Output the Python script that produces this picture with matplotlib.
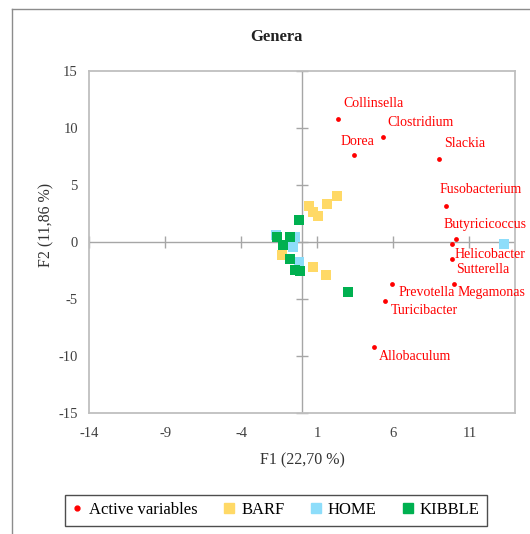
import matplotlib
matplotlib.use("Agg")
import matplotlib.pyplot as plt
from matplotlib.lines import Line2D

plt.rcParams['font.family'] = ['Liberation Serif', 'DejaVu Serif']
plt.rcParams['axes.unicode_minus'] = False

# ---- data ----
var_names = ["Collinsella", "Clostridium", "Dorea", "Slackia", "Fusobacterium",
             "Butyricicoccus", "Helicobacter", "Sutterella", "Megamonas",
             "Prevotella", "Turicibacter", "Allobaculum"]
var_x = [2.35, 5.31, 3.44, 9.03, 9.45, 10.13, 9.85, 9.85, 10.02, 5.94, 5.48, 4.72]
var_y = [10.77, 9.2, 7.65, 7.3, 3.18, 0.24, -0.2, -1.53, -3.65, -3.65, -5.2, -9.18]

barf_x = [0.46, 0.75, 1.03, 1.62, 2.28, -1.32, 0.75, 1.56]
barf_y = [3.2, 2.66, 2.32, 3.33, 4.0, -1.12, -2.2, -2.91]

home_x = [-1.69, -0.46, -0.59, -0.18, 13.29]
home_y = [0.59, 0.44, -0.44, -1.74, -0.2]

kibble_x = [-0.18, -1.63, -0.77, -1.23, -0.77, -0.44, -0.1, 3.05]
kibble_y = [1.94, 0.47, 0.47, -0.26, -1.5, -2.45, -2.58, -4.41]

x_ticks = [-14, -9, -4, 1, 6, 11]
y_ticks = [15, 10, 5, 0, -5, -10, -15]

title = "Genera"
x_label = "F1 (22,70 %)"
y_label = "F2 (11,86 %)"

# label offsets in pixels (dx, dy) relative to the point
label_offsets = {
    "Collinsella": (6, 16), "Clostridium": (5, 15), "Dorea": (-14, 13),
    "Slackia": (5, 15), "Fusobacterium": (-6, 16), "Butyricicoccus": (-13, 15),
    "Helicobacter": (3, -10), "Sutterella": (4, -10), "Megamonas": (3, -9),
    "Prevotella": (6, -9), "Turicibacter": (5, -9), "Allobaculum": (5, -10),
}

C_RED = "#FF0000"
C_BARF = "#FFD966"
C_HOME = "#8DDDFA"
C_KIB = "#00B050"

W, H = 530, 534
fig = plt.figure(figsize=(W / 100, H / 100), dpi=100)
ax = fig.add_axes([89 / W, 1 - 413 / H, (515 - 89) / W, (413 - 71) / H])

ax.set_xlim(-14, 14)
ax.set_ylim(-15, 15)

grey = "#BFBFBF"
for s in ax.spines.values():
    s.set_color(grey)
    s.set_linewidth(1.3)

# zero axes with crossing ticks
ax.axhline(0, color="#A6A6A6", lw=1.0, zorder=1)
ax.axvline(0, color="#A6A6A6", lw=1.0, zorder=1)
ax.plot([0] * len(y_ticks), y_ticks, ls="none", marker="_", ms=8, mew=1.0,
        color="#A6A6A6", zorder=1, clip_on=False)
ax.plot(x_ticks, [0] * len(x_ticks), ls="none", marker="|", ms=8, mew=1.0,
        color="#A6A6A6", zorder=1, clip_on=False)

ax.set_xticks(x_ticks)
ax.set_yticks(y_ticks)
ax.tick_params(length=0, labelsize=10.5, labelcolor="#404040", pad=10)
ax.tick_params(axis="y", pad=8)

sq = 50
ax.scatter(barf_x, barf_y, marker="s", s=sq, color=C_BARF, lw=0, zorder=3, label="BARF")
ax.scatter(home_x, home_y, marker="s", s=sq, color=C_HOME, lw=0, zorder=4, label="HOME")
ax.scatter(kibble_x, kibble_y, marker="s", s=sq, color=C_KIB, lw=0, zorder=5, label="KIBBLE")
ax.scatter(var_x, var_y, marker="o", s=12, color=C_RED, lw=0, zorder=6,
           label="Active variables")

for n, x, y in zip(var_names, var_x, var_y):
    dx, dy = label_offsets[n]
    ax.annotate(n, (x, y), xytext=(dx * 0.72, dy * 0.72), textcoords="offset points",
                ha="left", va="center", color=C_RED, fontsize=10, zorder=7)

fig.text(276 / W, 1 - 37 / H, title, ha="center", va="center",
         fontsize=12, fontweight="bold", color="#222222")
fig.text(302 / W, 1 - 460 / H, x_label, ha="center", va="center",
         fontsize=11.5, color="#333333")
fig.text(46 / W, 1 - 225 / H, y_label, ha="center", va="center",
         fontsize=11.5, color="#333333", rotation=90)

# figure border (left & top visible)
fig.add_artist(Line2D([12 / W, 12 / W], [0, 1 - 9 / H], color="#8C8C8C", lw=1.0,
                      transform=fig.transFigure))
fig.add_artist(Line2D([12 / W, 1], [1 - 9 / H, 1 - 9 / H], color="#8C8C8C", lw=1.0,
                      transform=fig.transFigure))

handles = [
    Line2D([], [], ls="none", marker="o", ms=3.5, color=C_RED, label="Active variables"),
    Line2D([], [], ls="none", marker="s", ms=7, color=C_BARF, label="BARF"),
    Line2D([], [], ls="none", marker="s", ms=7, color=C_HOME, label="HOME"),
    Line2D([], [], ls="none", marker="s", ms=7, color=C_KIB, label="KIBBLE"),
]
leg = fig.legend(handles=handles, loc="center", bbox_to_anchor=(276 / W, 1 - 510 / H),
                 ncol=4, fontsize=12, frameon=True, fancybox=False,
                 handlelength=0.6, handletextpad=0.4, columnspacing=1.6,
                 borderpad=0.45, edgecolor="#222222")
leg.get_frame().set_linewidth(1.0)

fig.savefig("out.png", dpi=100)
